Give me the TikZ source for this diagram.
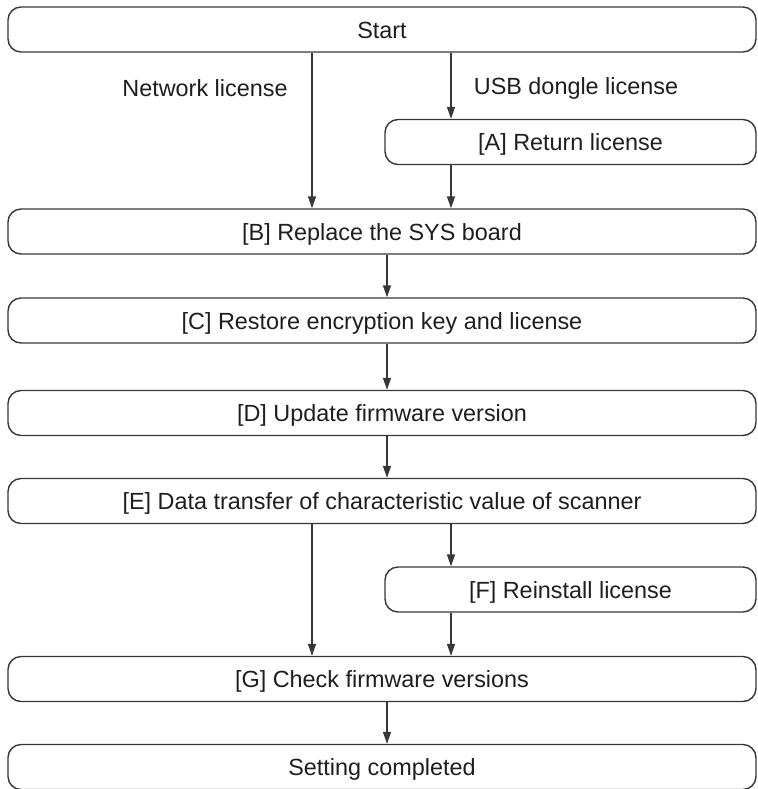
\documentclass[tikz,border=0pt]{standalone}
\usepackage{fontspec}
\setmainfont{Liberation Sans}
\usetikzlibrary{arrows.meta,positioning,calc}
\definecolor{ink}{RGB}{30,30,30}
\definecolor{edge}{RGB}{55,55,55}
\tikzset{
  >={Triangle[length=6pt,width=4pt]},
  stepbox/.style={draw=edge,rounded corners=6.5pt,line width=0.7pt,
    minimum width=#1,minimum height=22.5pt,inner sep=0pt,text=ink,
    font=\fontsize{11.7}{14}\selectfont,text height=0.92em,text depth=0.04em},
  stepbox/.default=374pt,
  flow/.style={->,line width=0.7pt,draw=edge},
  tag/.style={text=ink,font=\fontsize{11.7}{14}\selectfont},
}
\begin{document}
\begin{tikzpicture}[x=0.5pt,y=-0.5pt]
  \useasboundingbox (0,0) rectangle (757,789);
  % lanes of the connectors
  \coordinate (lft) at (312,0);
  \coordinate (mid) at (387,0);
  \coordinate (rgt) at (451,0);

  \node[stepbox] (start) at (382,29.5) {Start};
  \node[tag] (net) at (205,88) {Network license};
  \node[tag] (usb) at (576,88) {USB dongle license};
  \node[stepbox=185.5pt] (ret) at (570.5,142) {[A] Return license};
  \node[stepbox] (sys) at (382,231.5) {[B] Replace the SYS board};
  \node[stepbox] (key) at (382,320.5) {[C] Restore encryption key and license};
  \node[stepbox] (fw) at (382,413) {[D] Update firmware version};
  \node[stepbox] (scan) at (382,501) {[E] Data transfer of characteristic value of scanner};
  \node[stepbox=185.5pt] (reinst) at (570.5,589.5) {[F] Reinstall license};
  \node[stepbox] (check) at (382,679) {[G] Check firmware versions};
  \node[stepbox] (done) at (382,767) {Setting completed};

  \draw[flow] (start.south -| lft) -- (sys.north -| lft);
  \draw[flow] (start.south -| rgt) -- (ret.north -| rgt);
  \draw[flow] (ret.south -| rgt) -- (sys.north -| rgt);
  \draw[flow] (sys.south -| mid) -- (key.north -| mid);
  \draw[flow] (key.south -| mid) -- (fw.north -| mid);
  \draw[flow] (fw.south -| mid) -- (scan.north -| mid);
  \draw[flow] (scan.south -| lft) -- (check.north -| lft);
  \draw[flow] (scan.south -| rgt) -- (reinst.north -| rgt);
  \draw[flow] (reinst.south -| rgt) -- (check.north -| rgt);
  \draw[flow] (check.south -| mid) -- (done.north -| mid);
\end{tikzpicture}
\end{document}
